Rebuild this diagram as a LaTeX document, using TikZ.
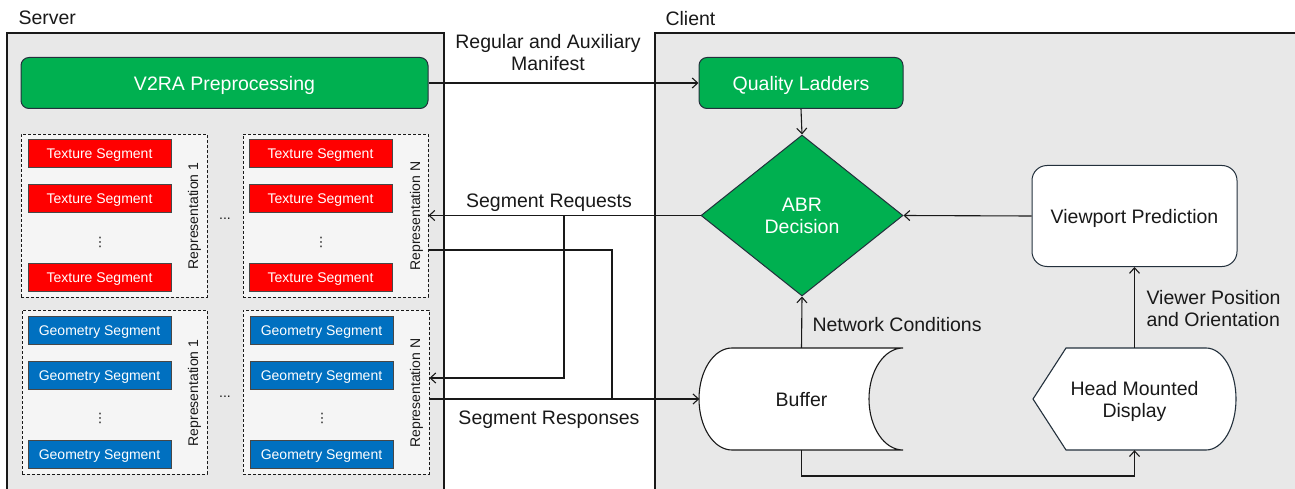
\documentclass[tikz,border=0pt]{standalone}
\usepackage{fontspec}
\setmainfont{Liberation Sans}
\newfontfamily\symfont{DejaVu Sans}
\usetikzlibrary{shapes.geometric,arrows.meta}

\definecolor{panel}{RGB}{232,232,232}
\definecolor{repfill}{RGB}{245,245,245}
\definecolor{procgreen}{RGB}{0,176,80}
\definecolor{texred}{RGB}{255,0,0}
\definecolor{geoblue}{RGB}{0,112,192}
\definecolor{edge}{RGB}{35,48,60}
\definecolor{ink}{RGB}{25,25,25}

\tikzset{
  big/.style={font=\fontsize{19.5}{22}\selectfont, text=ink, text depth=0pt},
  small/.style={font=\fontsize{14}{16}\selectfont, text depth=0pt},
  proc/.style={draw=edge, line width=1pt, fill=procgreen, rounded corners=8pt,
    big, text=white, inner sep=0pt},
  plainbox/.style={draw=edge, line width=1pt, fill=white, rounded corners=15pt,
    big, inner sep=0pt, align=center},
  repbox/.style={draw=ink, dash pattern=on 3pt off 2pt, line width=0.9pt,
    fill=repfill, inner sep=0pt},
  texseg/.style={draw=ink!80, line width=0.9pt, fill=texred, text=white, small,
    minimum width=143pt, minimum height=28pt, inner sep=0pt},
  geoseg/.style={draw=ink!80, line width=0.9pt, fill=geoblue, text=white, small,
    minimum width=143pt, minimum height=28pt, inner sep=0pt},
  dots/.style={small, text=ink, inner sep=0pt},
  vdotsnode/.style={font=\symfont\fontsize{13}{14}\selectfont, text=ink, inner sep=0pt},
  replabel/.style={small, text=ink, rotate=90},
  arr/.style={-{Straight Barb[length=5.5pt,width=10pt]}, line width=1.1pt, draw=ink},
  wire/.style={line width=1.1pt, draw=ink},
}

\begin{document}
\begin{tikzpicture}[x=1pt,y=-1pt]
\useasboundingbox[fill=white] (0,0) rectangle (1295,489);

% server and client panels
\fill[panel] (7,33) rectangle (444,489);
\draw[wire] (7,489) -- (7,33) -- (444,33) -- (444,489);
\fill[panel] (655,33) rectangle (1295,489);
\draw[wire] (655,489) -- (655,33) -- (1296,33);
\node[big, anchor=west] (srvlabel) at (15,18) {Server};
\node[big, anchor=west] (clilabel) at (662,18) {Client};

% server side
\node[proc, minimum width=407pt, minimum height=51pt] (v2ra) at (224.5,83) {V2RA Preprocessing};

\node[repbox, minimum width=186pt, minimum height=163pt] (tOne) at (114,215.5) {};
\node[repbox, minimum width=185pt, minimum height=163pt] (tN) at (335.5,215.5) {};
\node[repbox, minimum width=185pt, minimum height=164pt] (gOne) at (114.5,392) {};
\node[repbox, minimum width=186pt, minimum height=164pt] (gN) at (336,392) {};

\foreach \y/\n in {153.5/a,198.5/b,277.5/c} {
  \node[texseg] (t1\n) at (99.5,\y) {Texture Segment};
  \node[texseg] (tN\n) at (320.5,\y) {Texture Segment};
}
\foreach \y/\n in {330.5/a,375.5/b,454.5/c} {
  \node[geoseg] (g1\n) at (99.5,\y) {Geometry Segment};
  \node[geoseg] (gN\n) at (321.5,\y) {Geometry Segment};
}

\node[vdotsnode] (tvd1) at (100,242) {⋮};
\node[vdotsnode] (tvdN) at (321,242) {⋮};
\node[vdotsnode] (gvd1) at (100,418) {⋮};
\node[vdotsnode] (gvdN) at (322,418) {⋮};
\node[dots] (thd) at (225,219) {...};
\node[dots] (ghd) at (225,397) {...};

\node[replabel] (tr1) at (193,216) {Representation 1};
\node[replabel] (trN) at (415,216) {Representation N};
\node[replabel] (gr1) at (193,393) {Representation 1};
\node[replabel] (grN) at (415,393) {Representation N};

% client side
\node[proc, minimum width=204pt, minimum height=51pt] (ql) at (801,83) {Quality Ladders};
\node[diamond, draw=edge, line width=1pt, fill=procgreen, big, text=white,
  align=center, inner sep=0pt, minimum width=202pt, minimum height=161pt] (abr)
  at (802,215.5) {ABR\\Decision};
\node[plainbox, minimum width=205pt, minimum height=101pt] (vp) at (1134.5,216) {Viewport Prediction};

% buffer (stored data shape)
\filldraw[fill=white, draw=ink, line width=1.1pt]
  (732,348) -- (903,348)
  arc[start angle=90, end angle=270, x radius=34pt, y radius=51pt]
  -- (732,450)
  arc[start angle=270, end angle=90, x radius=33pt, y radius=51pt] -- cycle;
\node[big, minimum width=204pt, minimum height=102pt, inner sep=0pt] (buf) at (801.5,399) {Buffer};

% head mounted display (display shape)
\filldraw[fill=white, draw=edge, line width=1.1pt]
  (1033,399) -- (1066,348) -- (1206,348)
  arc[start angle=90, end angle=-90, x radius=30pt, y radius=51pt]
  -- (1066,450) -- cycle;
\node[big, align=center, minimum width=203pt, minimum height=102pt, inner sep=0pt] (hmd)
  at (1134.5,399) {Head Mounted\\Display};

% connectors
\draw[arr] (v2ra.east) -- (ql.west);
\node[big, align=center] (manlabel) at (548,52) {Regular and Auxiliary\\Manifest};
\draw[arr] (ql.south) -- (abr.north);
\draw[arr] (vp.west) -- (abr.east);
\draw[arr] (hmd.north) -- (vp.south);
\node[big, align=left, anchor=west] (vplabel) at (1143,308) {Viewer Position\\and Orientation};
\draw[arr] (buf.north) -- (abr.south);
\node[big, anchor=west] (nclabel) at (809,324) {Network Conditions};
\coordinate (busdrop) at (801.5,476);
\draw[arr] (buf.south) -- (busdrop) -| (hmd.south);

\draw[arr] (abr.west) -- (tN.east);
\coordinate (reqfork) at (564,215.5);
\draw[arr] (reqfork) |- ([yshift=14pt]gN.east);
\node[big] (reqlabel) at (549,201) {Segment Requests};
\coordinate (respjoin) at (612,399);
\draw[wire] ([yshift=-34.5pt]tN.east) -| (respjoin);
\draw[arr] ([yshift=-7pt]gN.east) -- (buf.west);
\node[big] (resplabel) at (549,418) {Segment Responses};
\end{tikzpicture}
\end{document}
